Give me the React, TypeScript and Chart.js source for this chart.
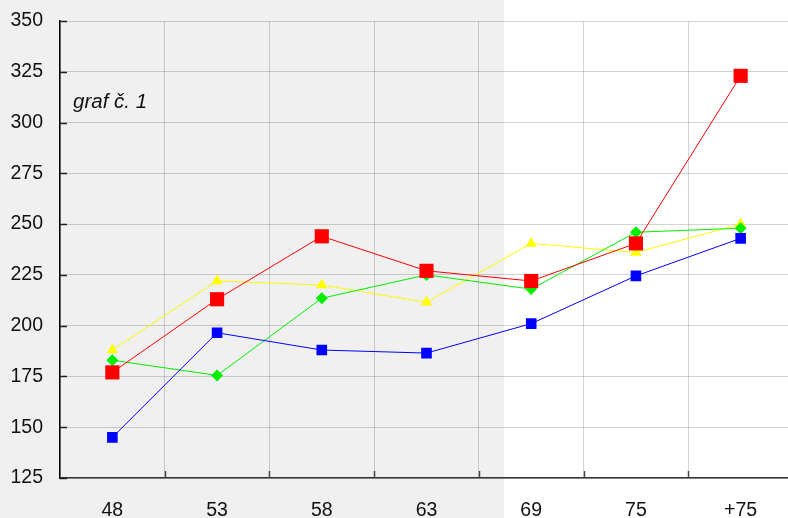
import React, { useEffect, useRef } from "react";
import { Chart, registerables } from "chart.js";

Chart.register(...registerables);

const categories = ["48", "53", "58", "63", "69", "75", "+75"];
const redValues = [177, 213, 244, 227, 222, 240.5, 323];
const blueValues = [145, 196.5, 188, 186.5, 201, 224.5, 243];
const greenValues = [183, 175.5, 213.5, 225, 218, 246, 248];
const yellowValues = [188, 222, 220, 211.5, 240.5, 236, 250];
const titleText = "graf č. 1";

const FONT = "'Liberation Sans', Arial, Helvetica, sans-serif";

const innerTicks = {
  id: "innerTicks",
  afterDraw(chart: any) {
    const { ctx, chartArea, scales } = chart;
    const y = scales.y;
    const x = scales.x;
    ctx.save();
    ctx.strokeStyle = "#222";
    ctx.lineWidth = 1.5;
    y.ticks.forEach((_: any, i: number) => {
      const py = Math.round(y.getPixelForTick(i)) + 0.5;
      ctx.beginPath();
      ctx.moveTo(chartArea.left, py);
      ctx.lineTo(chartArea.left + 7, py);
      ctx.stroke();
    });
    ctx.strokeStyle = "#444";
    for (let i = 0; i < x.ticks.length; i++) {
      const a = x.getPixelForTick(i);
      const b = i + 1 < x.ticks.length ? x.getPixelForTick(i + 1) : a + (a - x.getPixelForTick(i - 1));
      const px = Math.round((a + b) / 2) + 0.5;
      ctx.beginPath();
      ctx.moveTo(px, chartArea.bottom);
      ctx.lineTo(px, chartArea.bottom - 7);
      ctx.stroke();
    }
    ctx.fillStyle = "#111";
    ctx.font = `italic 20.5px ${FONT}`;
    ctx.textBaseline = "middle";
    ctx.textAlign = "left";
    ctx.fillText(titleText, chartArea.left + 13, y.getPixelForValue(310));
    ctx.restore();
  },
};

export default function App() {
  const ref = useRef<HTMLCanvasElement>(null);
  useEffect(() => {
    if (!ref.current) return;
    const mk = (label: string, data: number[], color: string, style: string, radius: number) => ({
      label,
      data,
      borderColor: color,
      backgroundColor: color,
      borderWidth: 1,
      pointStyle: style,
      pointRadius: radius,
      pointBorderWidth: 0,
      pointBackgroundColor: color,
      tension: 0,
    });
    const chart = new Chart(ref.current, {
      type: "line",
      data: {
        labels: categories,
        datasets: [
          mk("red", redValues, "#ff0000", "rect", 10),
          mk("blue", blueValues, "#0000ff", "rect", 7.5),
          mk("green", greenValues, "#00ee00", "rectRot", 6),
          mk("yellow", yellowValues, "#ffff00", "triangle", 6.5),
        ],
      },
      options: {
        animation: false,
        responsive: false,
        maintainAspectRatio: false,
        layout: { padding: { top: 21, right: 3, left: 0, bottom: 0 } },
        plugins: { legend: { display: false }, tooltip: { enabled: false }, title: { display: false } },
        scales: {
          x: {
            offset: true,
            grid: { offset: true, color: "rgba(0,0,0,0.17)", lineWidth: 1, drawTicks: false },
            border: { color: "#333", width: 1.5 },
            ticks: { color: "#111", font: { family: FONT, size: 19.5 }, padding: 21, maxRotation: 0 },
            afterFit: (s: any) => {
              s.height = 40;
              s.paddingLeft = 0;
              s.paddingRight = 0;
            },
          },
          y: {
            min: 125,
            max: 350,
            grid: { color: "rgba(0,0,0,0.17)", lineWidth: 1, drawTicks: false },
            border: { color: "#000", width: 1.5 },
            ticks: { stepSize: 25, color: "#111", font: { family: FONT, size: 19.5 }, padding: 17 },
            afterFit: (s: any) => {
              s.width = 60;
              s.paddingTop = 0;
              s.paddingBottom = 0;
            },
          },
        },
      },
      plugins: [innerTicks],
    } as any);
    return () => chart.destroy();
  }, []);
  return (
    <div
      style={{
        position: "fixed",
        left: 0,
        top: 0,
        width: 788,
        height: 518,
        overflow: "hidden",
        background: "linear-gradient(to right, #f0f0f0 504px, #ffffff 504px)",
      }}
    >
      <canvas ref={ref} width={803} height={518} style={{ display: "block", width: 803, height: 518 }} />
    </div>
  );
}
